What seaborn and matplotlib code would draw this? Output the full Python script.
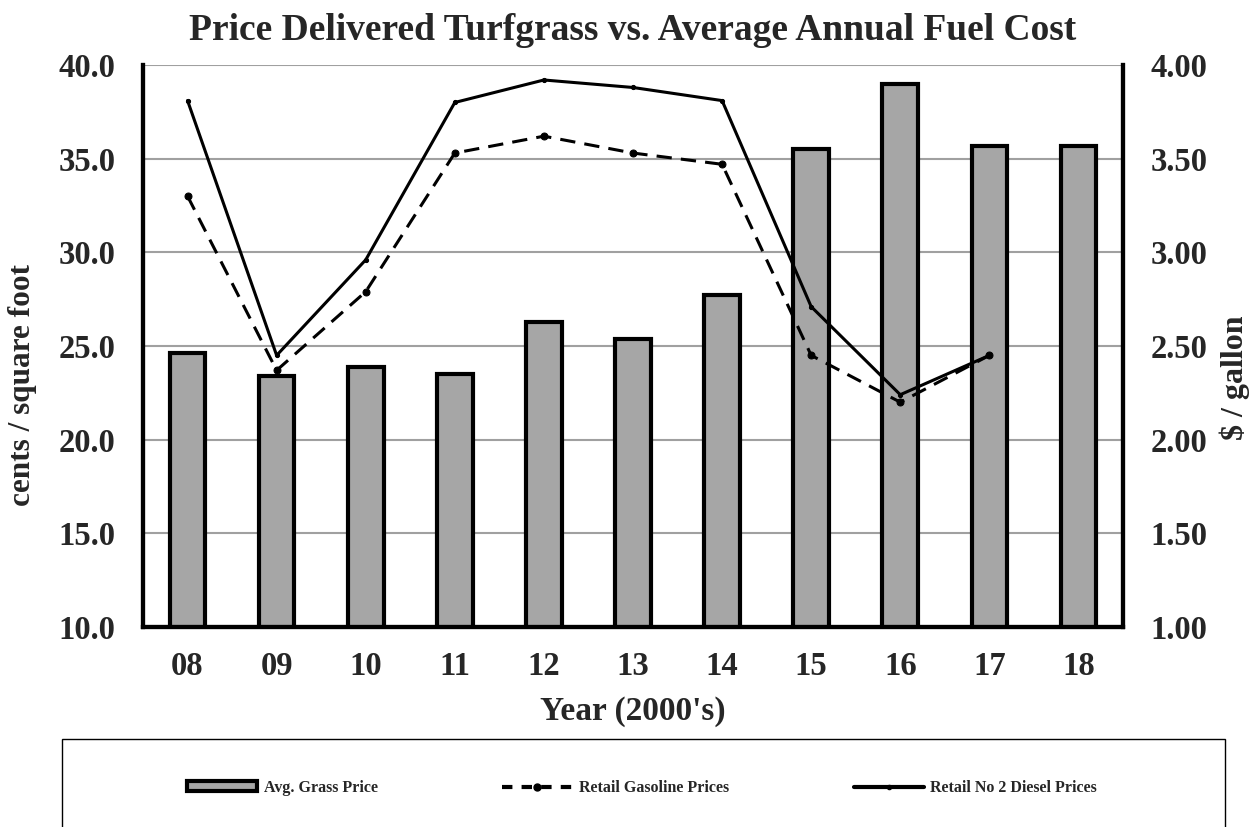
import matplotlib
matplotlib.use("Agg")
import matplotlib.pyplot as plt
import numpy as np
import seaborn as sns
from matplotlib.lines import Line2D
from matplotlib.patches import Patch, Rectangle

years = ["08", "09", "10", "11", "12", "13", "14", "15", "16", "17", "18"]
grass_price = [24.6, 23.4, 23.9, 23.5, 26.3, 25.4, 27.7, 35.5, 39.0, 35.7, 35.7]
gasoline = [3.30, 2.37, 2.79, 3.53, 3.62, 3.53, 3.47, 2.45, 2.20, 2.45]
diesel = [3.81, 2.45, 2.96, 3.80, 3.92, 3.88, 3.81, 2.71, 2.24, 2.45]

sns.set_style("white")
plt.rcParams["font.family"] = ["Liberation Serif", "DejaVu Serif"]
plt.rcParams["font.weight"] = "bold"

W, H = 1260, 827
fig = plt.figure(figsize=(12.6, 8.27), dpi=100)
ax = fig.add_axes([143 / W, 1 - 627 / H, 980 / W, 562 / H])

sns.barplot(x=years, y=grass_price, ax=ax, color="#a6a6a6", width=0.40,
            edgecolor="black", linewidth=3, saturation=1, zorder=2)
ax.set_ylim(10, 40)
ax.set_yticks(np.arange(10, 40.1, 5))
ax.set_yticklabels([f"{v:.1f}" for v in np.arange(10, 40.1, 5)])
ax.yaxis.grid(True, color="#a0a0a0", linewidth=1.5, zorder=0)
ax.set_axisbelow(True)
ax.set_xlim(-0.5, len(years) - 0.5)

ax2 = ax.twinx()
sns.lineplot(x=np.arange(len(gasoline)), y=gasoline, ax=ax2, color="black",
             linewidth=2.2, linestyle=(0, (5, 3)), marker="o", markersize=5,
             markeredgecolor="black", zorder=3)
sns.lineplot(x=np.arange(len(diesel)), y=diesel, ax=ax2, color="black",
             linewidth=2.2, marker="o", markersize=3, markeredgecolor="black",
             zorder=3)
ax2.set_ylim(1, 4)
ax2.set_yticks(np.arange(1, 4.01, 0.5))
ax2.set_yticklabels([f"{v:.2f}" for v in np.arange(1, 4.01, 0.5)])
ax2.set_xlim(-0.5, len(years) - 0.5)

for a in (ax, ax2):
    a.spines["top"].set_visible(False)
    for s in ("left", "right", "bottom"):
        a.spines[s].set_linewidth(3)
        a.spines[s].set_color("black")
    a.tick_params(axis="both", labelsize=23.5, length=0)
    a.tick_params(axis="y", pad=20)
    a.tick_params(axis="x", pad=17)
    for t in a.get_xticklabels() + a.get_yticklabels():
        t.set_fontweight("bold")

ax.set_xlabel("Year (2000's)", fontsize=24, fontweight="bold")
ax.xaxis.set_label_coords(0.5, (627 - 696) / 562)
ax.set_ylabel("cents / square foot", fontsize=22.5, fontweight="bold")
ax.yaxis.set_label_coords((37 - 143) / 980, (627 - 385) / 562)
ax2.set_ylabel("$ / gallon", fontsize=23, fontweight="bold")
ax2.yaxis.set_label_coords((1219 - 143) / 980, (627 - 378) / 562)
ax.set_title("Price Delivered Turfgrass vs. Average Annual Fuel Cost",
             fontsize=27, fontweight="bold", pad=18)

# legend box, running off the bottom edge
fig.patches.append(Rectangle((62 / W, -0.05), 1163 / W, 0.05 + 1 - 739 / H,
                             transform=fig.transFigure, fill=False,
                             edgecolor="black", linewidth=1))
handles = [
    Patch(facecolor="#a6a6a6", edgecolor="black", linewidth=3),
    Line2D([], [], color="black", linewidth=3, linestyle=(0, (2.5, 2.2)),
           marker="o", markersize=5),
    Line2D([], [], color="black", linewidth=3, marker="o", markersize=3),
]
labels = ["Avg. Grass Price", "Retail Gasoline Prices", "Retail No 2 Diesel Prices"]
fig.legend(handles, labels, loc="center", bbox_to_anchor=(642 / W, 1 - 788 / H),
           ncol=3, frameon=False, handlelength=4.4, handleheight=0.6,
           columnspacing=7.8, handletextpad=0.4,
           prop={"family": "Liberation Serif", "weight": "bold", "size": 11.5})

fig.savefig("out.png", dpi=100)
